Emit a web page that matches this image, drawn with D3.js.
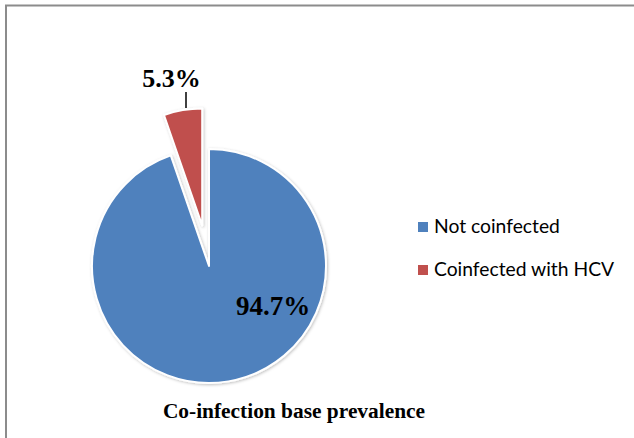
<!DOCTYPE html>
<html>
<head>
<meta charset="utf-8">
<script src="https://cdn.jsdelivr.net/npm/d3@7"></script>
<style>
  body { margin: 0; background: #fff; }
</style>
</head>
<body>
<div id="chart"></div>
<script>
// data
const categories = ["Not coinfected", "Coinfected with HCV"];
const values = [94.7, 5.3];
const colors = ["#4F81BD", "#C0504D"];
const chartTitle = "Co-infection base prevalence";

const width = 634;
const height = 438;

const svg = d3
  .select("#chart")
  .append("svg")
  .attr("width", width)
  .attr("height", height);

// soft shadow like the office chart
const defs = svg.append("defs");
const filter = defs.append("filter").attr("id", "shadow")
  .attr("x", "-20%").attr("y", "-20%").attr("width", "140%").attr("height", "140%");
filter.append("feDropShadow")
  .attr("dx", 1).attr("dy", 1).attr("stdDeviation", 1.5)
  .attr("flood-color", "#000").attr("flood-opacity", 0.25);

// outer frame (only top and left visible)
svg.append("rect")
  .attr("x", 6)
  .attr("y", 5.5)
  .attr("width", 700)
  .attr("height", 500)
  .attr("fill", "none")
  .attr("stroke", "#8c8c8c")
  .attr("stroke-width", 2);

const cx = 209;
const cy = 266;
const radius = 117;
const explode = 41;

const data = categories.map((c, i) => ({ name: c, value: values[i], color: colors[i] }));

const pie = d3.pie().sort(null).value((d) => d.value);
const arcs = pie(data);

const arc = d3.arc().innerRadius(0).outerRadius(radius);

const pieG = svg.append("g").attr("transform", `translate(${cx},${cy})`);

function offset(d) {
  if (d.index === 0) return [0, 0];
  const mid = (d.startAngle + d.endAngle) / 2;
  return [Math.sin(mid) * explode, -Math.cos(mid) * explode];
}

pieG
  .selectAll("path.slice")
  .data(arcs)
  .enter()
  .append("path")
  .attr("class", "slice")
  .attr("d", arc)
  .attr("transform", (d) => `translate(${offset(d)[0]},${offset(d)[1]})`)
  .attr("fill", (d) => d.data.color)
  .attr("stroke", "#fff")
  .attr("stroke-width", 2)
  .attr("stroke-linejoin", "round")
  .attr("filter", "url(#shadow)");

const serif = "'Liberation Serif', 'Times New Roman', serif";

// 94.7% label inside the big slice
pieG
  .append("text")
  .attr("x", 64)
  .attr("y", 49)
  .attr("text-anchor", "middle")
  .attr("font-family", serif)
  .attr("font-weight", "bold")
  .attr("font-size", 27)
  .attr("fill", "#000")
  .text(d3.format(".1f")(values[0]) + "%");

// 5.3% label above the exploded slice with leader line
pieG
  .append("line")
  .attr("x1", -23)
  .attr("x2", -23)
  .attr("y1", -158)
  .attr("y2", -174)
  .attr("stroke", "#000")
  .attr("stroke-width", 1.5);

pieG
  .append("text")
  .attr("x", -37.5)
  .attr("y", -179)
  .attr("text-anchor", "middle")
  .attr("font-family", serif)
  .attr("font-weight", "bold")
  .attr("font-size", 26)
  .attr("fill", "#000")
  .text(d3.format(".1f")(values[1]) + "%");

// legend
const legend = svg.append("g").attr("transform", "translate(418,222)");
const rows = legend
  .selectAll("g")
  .data(data)
  .enter()
  .append("g")
  .attr("transform", (d, i) => `translate(0,${i * 43})`);

rows
  .append("rect")
  .attr("width", 10)
  .attr("height", 10)
  .attr("fill", (d) => d.color);

rows
  .append("text")
  .attr("x", 16)
  .attr("y", 11)
  .attr("font-family", "Lato, 'Open Sans', sans-serif")
  .attr("font-size", 19.3)
  .attr("fill", "#000")
  .text((d) => d.name);

// title
svg
  .append("text")
  .attr("x", 294)
  .attr("y", 418)
  .attr("text-anchor", "middle")
  .attr("font-family", serif)
  .attr("font-weight", "bold")
  .attr("font-size", 21.4)
  .attr("fill", "#000")
  .text(chartTitle);
</script>
</body>
</html>
